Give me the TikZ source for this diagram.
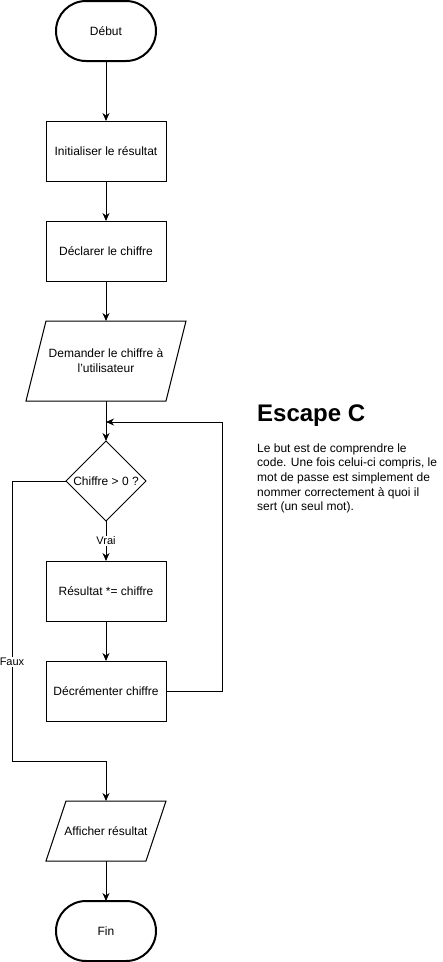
\documentclass[tikz,border=0pt]{standalone}
\usepackage{fontspec}
\setmainfont{Liberation Sans}
\usetikzlibrary{arrows.meta}
\begin{document}
\begin{tikzpicture}[x=1pt,y=-1pt,
 base/.style={font=\fontsize{12}{15}\selectfont, inner sep=0pt, outer sep=0pt, align=center},
 term/.style={base, draw, line width=2pt, minimum width=100pt, minimum height=60pt, rounded corners=30pt},
 proc/.style={base, draw, line width=1pt, minimum width=120pt, minimum height=60pt},
 shapeln/.style={line width=1pt, line join=miter},
 arr/.style={line width=1pt, -{Stealth[length=8pt,width=7pt,inset=2.5pt]}},
 ln/.style={line width=1pt},
 lbl/.style={font=\fontsize{11}{13}\selectfont, fill=white, inner sep=1pt}
]
\useasboundingbox (0,0) rectangle (443,962);

\node[term] (start) at (106,31) {Début};
\node[proc] (init) at (106,151) {Initialiser le résultat};
\node[proc] (decl) at (106,251) {Déclarer le chiffre};
\node[base, minimum width=160pt, minimum height=80pt] (ask) at (106,361) {Demander le chiffre à\\l\symbol{39}utilisateur};
\draw[shapeln] ([xshift=20pt]ask.north west) -- (ask.north east) -- ([xshift=-20pt]ask.south east) -- (ask.south west) -- cycle;
\node[base, minimum width=80pt, minimum height=80pt] (cond) at (106,481) {Chiffre > 0 ?};
\draw[shapeln] (cond.north) -- (cond.east) -- (cond.south) -- (cond.west) -- cycle;
\node[proc] (res) at (106,591) {Résultat *= chiffre};
\node[proc] (dec) at (106,691) {Décrémenter chiffre};
\node[base, minimum width=120pt, minimum height=60pt] (out) at (106,831) {Afficher résultat};
\draw[shapeln] ([xshift=20pt]out.north west) -- (out.north east) -- ([xshift=-20pt]out.south east) -- (out.south west) -- cycle;
\node[term] (end) at (106,931) {Fin};

\draw[arr] (start.south) -- (init.north);
\draw[arr] (init.south) -- (decl.north);
\draw[arr] (decl.south) -- (ask.north);
\draw[arr] (ask.south) -- (cond.north);
\draw[arr] (cond.south) -- node[lbl] (vrai) {Vrai} (res.north);
\draw[arr] (res.south) -- (dec.north);

\coordinate (loopR) at (222,691);
\coordinate (loopT) at (222,422);
\coordinate (join) at (106,422);
\draw[arr] (dec.east) -- (loopR) -- (loopT) -- (join);

\coordinate (fl) at (12,481);
\coordinate (fb) at (12,761);
\coordinate (fm) at (106,761);
\draw[arr] (cond.west) -- (fl) -- node[lbl, pos=0.646] (faux) {Faux} (fb) -- (fm) -- (out.north);
\draw[arr] (out.south) -- (end.north);

\node[anchor=base west, font=\bfseries\fontsize{24}{28}\selectfont, inner sep=0pt] (title) at (257,421) {Escape C};
\node[anchor=north west, font=\fontsize{12}{14.6}\selectfont, align=left, inner sep=0pt] (desc) at (257,443.3) {Le but est de comprendre le\\code. Une fois celui-ci compris, le\\mot de passe est simplement de\\nommer correctement à quoi il\\sert (un seul mot).};
\end{tikzpicture}
\end{document}
